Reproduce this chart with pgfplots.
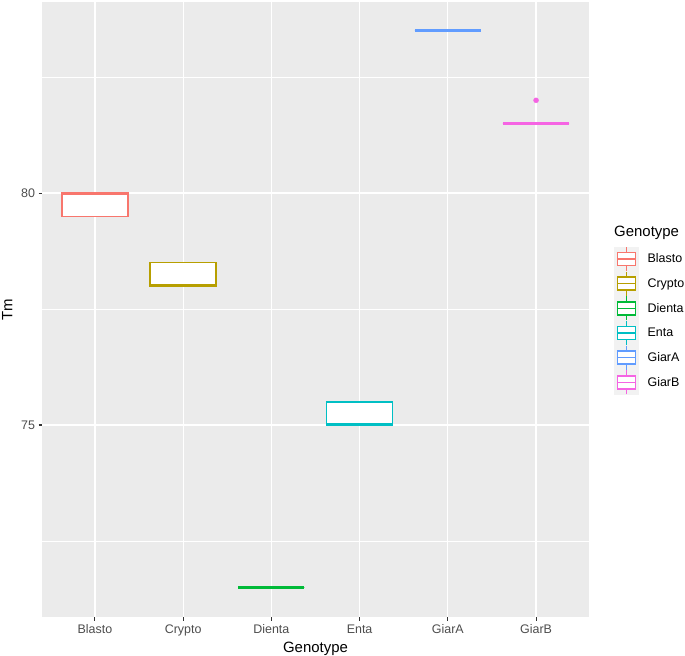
\documentclass[border=0pt]{standalone}
\usepackage{pgfplots}
\pgfplotsset{compat=1.18}
\usepgfplotslibrary{statistics}
\usepackage{fontspec}
\setmainfont{Liberation Sans}
\definecolor{ggbg}{HTML}{EBEBEB}
\definecolor{ggkey}{HTML}{F2F2F2}
\definecolor{ggtick}{HTML}{4D4D4D}
\definecolor{ggtickm}{HTML}{333333}
\definecolor{cBlasto}{HTML}{F8766D}
\definecolor{cCrypto}{HTML}{B79F00}
\definecolor{cDienta}{HTML}{00BA38}
\definecolor{cEnta}{HTML}{00BFC4}
\definecolor{cGiarA}{HTML}{619CFF}
\definecolor{cGiarB}{HTML}{F564E3}
\newcommand\legbox[1]{%
  \fill[ggkey] (0bp,-12bp) rectangle (24bp,12bp);
  \fill[white] (3bp,-6.5bp) rectangle (21bp,6.5bp);
  \draw[color=#1,line width=1.5bp] (12bp,-12bp)--(12bp,-6.5bp) (12bp,6.5bp)--(12bp,12bp)
     (3bp,-6.5bp)--(21bp,-6.5bp)--(21bp,6.5bp)--(3bp,6.5bp)--cycle
     (3bp,0bp)--(21bp,0bp);
}
\begin{document}
\begin{tikzpicture}
\path[use as bounding box] (-42bp,-39bp) rectangle (643bp,617bp);
\begin{axis}[
  name=ax,
  scale only axis,
  width=547bp, height=615bp,
  xmin=0.4, xmax=6.6, ymin=70.86, ymax=84.12,
  xtick={1,2,3,4,5,6},
  xticklabels={Blasto,Crypto,Dienta,Enta,GiarA,GiarB},
  ytick={75,80},
  minor ytick={72.5,77.5,82.5},
  grid=both,
  major grid style={white, line width=1.2bp},
  minor grid style={white, line width=0.6bp},
  axis background/.style={fill=ggbg},
  axis line style={draw=none},
  tick pos=left, tick align=outside,
  major tick length=3.5bp, minor tick length=0bp,
  tick style={ggtickm, line width=1.1bp},
  /pgf/number format/assume math mode=true,
  ticklabel style={font=\fontsize{12.5}{14}\selectfont, text=ggtick},
  xticklabel style={text height=9bp, text depth=0bp},
  xlabel={Genotype}, ylabel={Tm},
  label style={font=\fontsize{15}{17}\selectfont},
  xlabel style={yshift=-2bp},
  ylabel style={yshift=2bp},
  boxplot/draw direction=y,
  boxplot/box extend=0.75,
  boxplot/every box/.style={fill=white, line width=1.5bp},
  boxplot/every median/.style={line width=3bp},
  boxplot/every whisker/.style={line width=1.5bp},
  legend style={at={(1,0)}, anchor=north west, xshift=25bp, yshift=371bp,
    draw=none, fill=none, inner sep=0pt, row sep=-0.8bp,
    font=\fontsize{12.5}{14}\selectfont,
    /tikz/every odd column/.append style={column sep=7bp}},
  legend cell align=left,
]
\addplot[cBlasto, boxplot prepared={draw position=1, lower whisker=79.5, lower quartile=79.5, median=80, upper quartile=80, upper whisker=80}, legend image code/.code={\legbox{cBlasto}}] coordinates {};
\addlegendentry{Blasto}
\addplot[cCrypto, boxplot prepared={draw position=2, lower whisker=78, lower quartile=78, median=78, upper quartile=78.5, upper whisker=78.5}, legend image code/.code={\legbox{cCrypto}}] coordinates {};
\addlegendentry{Crypto}
\addplot[cDienta, boxplot prepared={draw position=3, lower whisker=71.5, lower quartile=71.5, median=71.5, upper quartile=71.5, upper whisker=71.5}, legend image code/.code={\legbox{cDienta}}] coordinates {};
\addlegendentry{Dienta}
\addplot[cEnta, boxplot prepared={draw position=4, lower whisker=75, lower quartile=75, median=75, upper quartile=75.5, upper whisker=75.5}, legend image code/.code={\legbox{cEnta}}] coordinates {};
\addlegendentry{Enta}
\addplot[cGiarA, boxplot prepared={draw position=5, lower whisker=83.5, lower quartile=83.5, median=83.5, upper quartile=83.5, upper whisker=83.5}, legend image code/.code={\legbox{cGiarA}}] coordinates {};
\addlegendentry{GiarA}
\addplot[cGiarB, mark=*, mark size=2.5bp, mark options={fill=cGiarB, draw=cGiarB}, boxplot prepared={draw position=6, lower whisker=81.5, lower quartile=81.5, median=81.5, upper quartile=81.5, upper whisker=81.5}, legend image code/.code={\legbox{cGiarB}}] coordinates {(0,82)};
\addlegendentry{GiarB}
\end{axis}
\node[anchor=base west, font=\fontsize{15}{17}\selectfont, inner sep=0pt] at ([xshift=25bp,yshift=380bp]ax.south east) {Genotype};
\end{tikzpicture}
\end{document}
